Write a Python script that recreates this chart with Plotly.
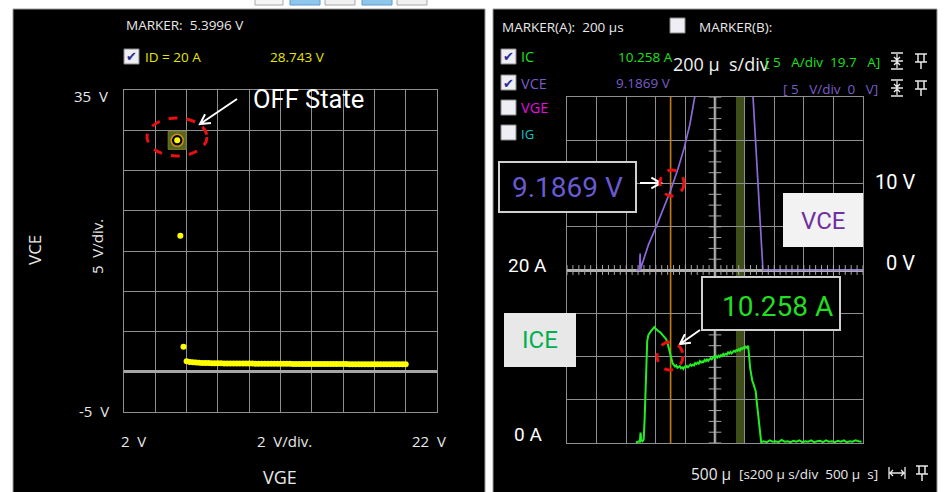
import math
import plotly.graph_objects as go

W, H = 944, 492

# ---------------- Left panel: VCE vs VGE sweep at ID = 20 A ----------------
vge_sweep = [5.3996, 5.6, 5.8,
             6.0, 6.2, 6.4, 6.6, 6.8, 7.0, 7.2, 7.4, 7.6, 7.8,
             8.0, 8.2, 8.4, 8.6, 8.8, 9.0, 9.2, 9.4, 9.6, 9.8,
             10.0, 10.2, 10.4, 10.6, 10.8, 11.0, 11.2, 11.4, 11.6, 11.8,
             12.0, 12.2, 12.4, 12.6, 12.8, 13.0, 13.2, 13.4, 13.6, 13.8,
             14.0, 14.2, 14.4, 14.6, 14.8, 15.0, 15.2, 15.4, 15.6, 15.8,
             16.0, 16.2, 16.4, 16.6, 16.8, 17.0, 17.2, 17.4, 17.6, 17.8,
             18.0, 18.2, 18.4, 18.6, 18.8, 19.0, 19.2, 19.4, 19.6, 19.8,
             20.0]
vce_sweep = [28.743, 16.9, 3.1,
             1.30, 1.22, 1.17, 1.14, 1.12, 1.10, 1.09, 1.08, 1.07, 1.06,
             1.05, 1.05, 1.04, 1.04, 1.03, 1.03, 1.02, 1.02, 1.02, 1.01,
             1.01, 1.01, 1.00, 1.00, 1.00, 0.99, 0.99, 0.99, 0.99, 0.98,
             0.98, 0.98, 0.98, 0.98, 0.97, 0.97, 0.97, 0.97, 0.97, 0.96,
             0.96, 0.96, 0.96, 0.96, 0.96, 0.95, 0.95, 0.95, 0.95, 0.95,
             0.95, 0.95, 0.94, 0.94, 0.94, 0.94, 0.94, 0.94, 0.94, 0.94,
             0.93, 0.93, 0.93, 0.93, 0.93, 0.93, 0.93, 0.93, 0.93, 0.93,
             0.93]
marker_vge = 5.3996
marker_vce = 28.743

# ---------------- Right panel: switching waveforms ----------------
t_vce = [-34, -10, -6, -3, 6, 50, 100, 150, 200, 250, 290, 330, 365, 420,
         745, 757, 790, 824, 1500]
vce = [0.0, 0.0, 1.9, 0.1, 0.6, 2.9, 4.9, 7.0, 9.1869, 11.7, 14.0, 16.8, 20.2, 25.0,
       25.0, 20.0, 10.2, 0.0, 0.0]

t_ic = [-34, -25, -15, -8, -3, 2, 10, 18, 24, 30, 36, 42, 50, 60, 70, 80, 90,
        100, 110, 120, 130, 140, 150, 160, 170, 180, 190, 200, 207, 214,
        222, 230, 238, 246, 254, 262, 270, 278, 286, 294, 302, 310, 318, 326,
        334, 342, 350, 358, 366, 374, 382, 390, 398, 406, 414, 422, 430, 438,
        446, 454, 462, 470, 478, 486, 493, 500, 508, 516, 524, 532, 540, 548,
        556, 564, 572, 580, 588, 596, 604, 612, 620, 628, 636, 644, 652, 660,
        668, 676, 684, 692, 700, 708, 716, 724,
        738, 745, 752, 760, 768, 775, 783, 790, 797, 804, 812, 830, 850, 870,
        890, 910, 930, 950, 970, 990, 1010, 1030, 1050, 1070, 1090, 1110, 1130,
        1150, 1170, 1190, 1210, 1230, 1250, 1270, 1290, 1310, 1330, 1350, 1370,
        1390, 1410, 1430, 1450, 1470, 1490]
ic = [0.15, 0.1, 0.2, 0.15, 1.2, 0.3, 0.2, 0.4, 2.5, 6.5, 9.8, 11.8, 12.5, 12.8,
      13.0, 13.2, 13.4, 13.2, 13.0, 12.9, 12.8, 12.6, 12.4, 12.3, 12.0, 11.5,
      10.9, 10.258, 9.6, 9.2,
      9.03, 8.84, 8.97, 8.70, 8.80, 8.89, 8.64, 8.75, 8.57, 8.82, 8.75, 8.90,
      8.75, 8.96, 9.08, 8.92, 9.07, 8.96, 9.24, 9.13, 9.29, 9.17, 9.46, 9.30,
      9.42, 9.34, 9.61, 9.47, 9.66, 9.49, 9.71, 9.81, 9.68, 9.86, 9.98, 9.83,
      10.04, 9.90, 10.09, 9.95, 10.16, 10.05, 10.30, 10.16, 10.30, 10.22, 10.48,
      10.34, 10.53, 10.36, 10.58, 10.66, 10.55, 10.75, 10.66, 10.85, 10.70,
      10.96, 10.85, 11.05, 10.92, 11.13, 11.02, 11.25,
      8.6, 7.8, 7.2, 6.8, 6.4, 6.0, 4.6, 3.4, 2.0, 0.8, 0.1, 0.2, 0.1, 0.3,
      0.15, 0.2, 0.1, 0.35, 0.15, 0.2, 0.1, 0.25, 0.15, 0.3, 0.1, 0.2, 0.15,
      0.3, 0.1, 0.2, 0.25, 0.1, 0.3, 0.15, 0.2, 0.1, 0.25, 0.15, 0.3,
      0.1, 0.2, 0.15, 0.3, 0.2, 0.15]
marker_a_t = 200
marker_a_ic = 10.258
marker_a_vce = 9.1869
band_t = [642, 703]


def px(x):
    return x / W


def py(y):
    return 1 - y / H


UI = "Open Sans"
LB = "Roboto"
GRID = "#8f8f8f"

fig = go.Figure()

# left sweep
fig.add_trace(go.Scatter(x=[marker_vge], y=[marker_vce], mode="markers",
                         marker=dict(symbol="square", size=18, color="#55661e",
                                     line=dict(color="#7a7a26", width=1)),
                         xaxis="x", yaxis="y", hoverinfo="skip"))
fig.add_trace(go.Scatter(x=[marker_vge], y=[marker_vce], mode="markers",
                         marker=dict(symbol="circle", size=12, color="#000000",
                                     line=dict(color="#d08a20", width=1.5)),
                         xaxis="x", yaxis="y", hoverinfo="skip"))
fig.add_trace(go.Scatter(x=vge_sweep, y=vce_sweep, mode="markers",
                         marker=dict(size=6, color="#ffff00"),
                         xaxis="x", yaxis="y"))

# right waveforms
fig.add_trace(go.Scatter(x=t_vce, y=vce, mode="lines",
                         line=dict(color="#8a6ad8", width=1.7),
                         xaxis="x2", yaxis="y2"))
fig.add_trace(go.Scatter(x=t_ic, y=ic, mode="lines",
                         line=dict(color="#22ee22", width=2),
                         xaxis="x2", yaxis="y3"))

# center axis tick decorations
tick_t = list(range(-500, 1501, 40))
fig.add_trace(go.Scatter(x=tick_t, y=[0] * len(tick_t), mode="markers",
                         marker=dict(symbol="line-ns", size=7,
                                     line=dict(color="#a8a8a8", width=1)),
                         xaxis="x2", yaxis="y2", hoverinfo="skip"))
tick_v = [v * 1.25 for v in range(-16, 17)]
fig.add_trace(go.Scatter(x=[500] * len(tick_v), y=tick_v, mode="markers",
                         marker=dict(symbol="line-ew", size=9,
                                     line=dict(color="#a8a8a8", width=1)),
                         xaxis="x2", yaxis="y2", hoverinfo="skip"))

shapes = []
anns = []

# top toolbar buttons (cut off by the top edge)
for x0, x1, fill, edge in [(255, 283, "#f6f6f6", "#a8a8a8"), (290, 320, "#8fc6ec", "#5b9bd0"),
                           (325, 355, "#f0f0f0", "#a8a8a8"), (362, 392, "#8fc6ec", "#5b9bd0"),
                           (397, 427, "#f0f0f0", "#a8a8a8")]:
    shapes.append(dict(type="rect", xref="paper", yref="paper", x0=px(x0), x1=px(x1),
                       y0=py(5), y1=py(-10), fillcolor=fill, line=dict(color=edge, width=1),
                       layer="below"))
# panel backgrounds
shapes.append(dict(type="rect", xref="paper", yref="paper", x0=px(13), x1=px(485),
                   y0=py(495), y1=py(9), fillcolor="#000000",
                   line=dict(color="#9a9a9a", width=1), layer="below"))
shapes.append(dict(type="rect", xref="paper", yref="paper", x0=px(493), x1=px(937),
                   y0=py(495), y1=py(9), fillcolor="#000000",
                   line=dict(color="#9a9a9a", width=1), layer="below"))

# marker band, marker A line and center time line
shapes.append(dict(type="rect", xref="x2", yref="paper", x0=band_t[0], x1=band_t[1],
                   y0=py(443), y1=py(97), fillcolor="#46561c", opacity=0.9,
                   line=dict(width=0), layer="below"))
shapes.append(dict(type="line", xref="x2", yref="paper", x0=marker_a_t, x1=marker_a_t,
                   y0=py(443), y1=py(97), line=dict(color="#c47a12", width=1.6),
                   layer="below"))
shapes.append(dict(type="line", xref="x2", yref="paper", x0=500, x1=500,
                   y0=py(443), y1=py(97), line=dict(color="#b0b0b0", width=2.5),
                   layer="below"))


def arrow(x0, y0, x1, y1, color="white", w=2, head=11):
    ang = math.atan2(y1 - y0, x1 - x0)
    bx1 = x1 - head * math.cos(ang - 0.5)
    by1 = y1 - head * math.sin(ang - 0.5)
    bx2 = x1 - head * math.cos(ang + 0.5)
    by2 = y1 - head * math.sin(ang + 0.5)
    path = (f"M {px(x0)},{py(y0)} L {px(x1)},{py(y1)} "
            f"M {px(bx1)},{py(by1)} L {px(x1)},{py(y1)} L {px(bx2)},{py(by2)}")
    shapes.append(dict(type="path", xref="paper", yref="paper", path=path,
                       line=dict(color=color, width=w)))


def ellipse(cx, cy, rx, ry, color="#e81010", w=3):
    shapes.append(dict(type="circle", xref="paper", yref="paper",
                       x0=px(cx - rx), x1=px(cx + rx), y0=py(cy + ry), y1=py(cy - ry),
                       line=dict(color=color, width=w, dash="dash")))


def box(x0, y0, x1, y1, fill, edge=None, w=2):
    shapes.append(dict(type="rect", xref="paper", yref="paper",
                       x0=px(x0), x1=px(x1), y0=py(y1), y1=py(y0), fillcolor=fill,
                       line=dict(color=edge if edge else fill, width=w if edge else 0)))


def checkbox(x0, y0, checked):
    box(x0, y0, x0 + 15, y0 + 15, "#eeeef4", "#8a8a8a", 1)
    if checked:
        anns.append(dict(x=px(x0 + 7.5), y=py(y0 + 8), text="✔", showarrow=False,
                         xref="paper", yref="paper", xanchor="center", yanchor="middle",
                         font=dict(family="DejaVu Sans", size=13, color="#2a2a9a")))


def updown_icon(cx, cy):
    p = (f"M {px(cx-6)},{py(cy)} L {px(cx+6)},{py(cy)} "
         f"M {px(cx)},{py(cy-7)} L {px(cx)},{py(cy-2)} "
         f"M {px(cx-3)},{py(cy-4)} L {px(cx)},{py(cy-1)} L {px(cx+3)},{py(cy-4)} "
         f"M {px(cx)},{py(cy+7)} L {px(cx)},{py(cy+2)} "
         f"M {px(cx-3)},{py(cy+4)} L {px(cx)},{py(cy+1)} L {px(cx+3)},{py(cy+4)} "
         f"M {px(cx-6)},{py(cy-8)} L {px(cx+6)},{py(cy-8)} "
         f"M {px(cx-6)},{py(cy+8)} L {px(cx+6)},{py(cy+8)}")
    shapes.append(dict(type="path", xref="paper", yref="paper", path=p,
                       line=dict(color="#e8e8e8", width=1.3)))


def pin_icon(cx, cy):
    p = (f"M {px(cx-6)},{py(cy-7)} L {px(cx+6)},{py(cy-7)} "
         f"M {px(cx-3)},{py(cy-7)} L {px(cx-3)},{py(cy+1)} "
         f"M {px(cx+3)},{py(cy-7)} L {px(cx+3)},{py(cy+1)} "
         f"M {px(cx-6)},{py(cy+1)} L {px(cx+6)},{py(cy+1)} "
         f"M {px(cx)},{py(cy+1)} L {px(cx)},{py(cy+8)}")
    shapes.append(dict(type="path", xref="paper", yref="paper", path=p,
                       line=dict(color="#e8e8e8", width=1.5)))


def hspan_icon(cx, cy):
    p = (f"M {px(cx-8)},{py(cy-6)} L {px(cx-8)},{py(cy+6)} "
         f"M {px(cx+8)},{py(cy-6)} L {px(cx+8)},{py(cy+6)} "
         f"M {px(cx-7)},{py(cy)} L {px(cx+7)},{py(cy)} "
         f"M {px(cx-4)},{py(cy-3)} L {px(cx-7)},{py(cy)} L {px(cx-4)},{py(cy+3)} "
         f"M {px(cx+4)},{py(cy-3)} L {px(cx+7)},{py(cy)} L {px(cx+4)},{py(cy+3)}")
    shapes.append(dict(type="path", xref="paper", yref="paper", path=p,
                       line=dict(color="#e8e8e8", width=1.3)))


def text(x, y, s, size=13, color="#e8e8e8", family=UI, xanchor="left", angle=0):
    anns.append(dict(x=px(x), y=py(y), text=s, showarrow=False, xref="paper", yref="paper",
                     xanchor=xanchor, yanchor="middle", textangle=angle,
                     font=dict(family=family, size=size, color=color)))


NB = "\u00a0"

# ---- left panel text ----
text(124, 25, f"MARKER:{NB}{NB}5.3996 V", 13.5)
checkbox(124, 49, True)
text(143, 57, "ID = 20 A", 13.5, "#e6e600")
text(268, 57, f"{marker_vce:.3f} V", 13.5, "#e6e600")
text(110, 96, f"35{NB}{NB}V", 15, xanchor="right")
text(111, 411, f"-5{NB}{NB}V", 15, xanchor="right")
text(34, 250, "VCE", 17, angle=-90, xanchor="center")
text(97, 247, f"5{NB}{NB}V/div.", 15, angle=-90, xanchor="center")
text(133, 441, f"2{NB}{NB}V", 15, xanchor="center")
text(284, 441, f"2{NB}{NB}V/div.", 15, xanchor="center")
text(429, 441, f"22{NB}{NB}V", 15, xanchor="center")
text(280, 477, "VGE", 18, xanchor="center")
text(251, 99, "OFF State", 25.5, "#ffffff", LB)
arrow(237, 99, 200, 124)
ellipse(177, 137, 30, 19)

# ---- right panel text ----
text(500, 27, f"MARKER(A):{NB}{NB}{marker_a_t} µs", 13.5)
checkbox(670, 18, False)
text(697, 27, "MARKER(B):", 13.5)
checkbox(501, 49, True)
checkbox(501, 75, True)
checkbox(501, 100, False)
checkbox(501, 125, False)
text(519, 57, "IC", 14.5, "#1ee01e")
text(519, 83, "VCE", 14.5, "#7a5cc8")
text(519, 108, "VGE", 14.5, "#e010e0")
text(519, 134, "IG", 13, "#10c8c8")
text(616, 57, f"{marker_a_ic:.3f} A", 13.5, "#1ee01e")
text(614, 83, f"{marker_a_vce:.4f} V", 13.5, "#7a5cc8")
text(671, 64, f"200 µ{NB}{NB}s/div", 18, "#f0f0f0")
text(763, 62, f"[{NB}5{NB}{NB}{NB}A/div{NB}{NB}19.7{NB}{NB}{NB}A]", 13.5, "#1ee01e")
text(781, 89, f"[{NB}5{NB}{NB}{NB}V/div{NB}{NB}0{NB}{NB}{NB}V]", 13.5, "#7a5cc8")
updown_icon(897, 61)
pin_icon(921, 61)
updown_icon(897, 88)
pin_icon(921, 88)
text(917, 182, "10 V", 20, "#ffffff", LB, xanchor="right")
text(917, 263, "0 V", 20, "#ffffff", LB, xanchor="right")
text(506, 265, "20 A", 19, "#ffffff", LB)
text(512, 434, "0 A", 19, "#ffffff", LB)
text(689, 474, "500 µ", 15.5)
text(737, 474, f"[s200 µ{NB}s/div{NB}{NB}500 µ{NB}{NB}s]", 13.5)
hspan_icon(897, 473)
pin_icon(922, 473)

# callouts
box(499, 162, 636, 212, "#000000", "#d0d0d0", 2)
text(567, 187, f"{marker_a_vce:.4f} V", 28, "#6a5ad0", LB, xanchor="center")
arrow(640, 183, 661, 183)
ellipse(672, 183, 12, 13)

box(783, 193, 863, 247, "#f2f2f2")
text(823, 221, "VCE", 24, "#7030a0", LB, xanchor="center")

box(702, 277, 840, 330, "#000000", "#d0d0d0", 2)
text(777, 306, f"{marker_a_ic:.3f} A", 28, "#22dd22", LB, xanchor="center")
arrow(700, 330, 680, 344)
ellipse(670, 356, 13, 14)

box(504, 313, 576, 367, "#e8e8e8")
text(540, 340, "ICE", 24, "#00b050", LB, xanchor="center")

axis_common = dict(showticklabels=False, ticks="", showgrid=True, gridcolor=GRID,
                   gridwidth=1, showline=True, mirror=True, linecolor=GRID, linewidth=1)

fig.update_layout(
    width=W, height=H, margin=dict(l=0, r=0, t=0, b=0),
    paper_bgcolor="#ffffff", plot_bgcolor="#000000", showlegend=False,
    xaxis=dict(domain=[px(124), px(437)], range=[2, 22], dtick=2, tick0=2,
               zeroline=False, anchor="y", **axis_common),
    yaxis=dict(domain=[py(412), py(90)], range=[-5, 35], dtick=5, tick0=-5,
               zeroline=True, zerolinecolor="#a6a6a6", zerolinewidth=3,
               anchor="x", **axis_common),
    xaxis2=dict(domain=[px(567), px(863)], range=[-500, 1500], dtick=200, tick0=-500,
                zeroline=False, anchor="y2", **axis_common),
    yaxis2=dict(domain=[py(443), py(97)], range=[-20, 20], dtick=5, tick0=-20,
                zeroline=True, zerolinecolor="#b0b0b0", zerolinewidth=2.5,
                anchor="x2", **axis_common),
    yaxis3=dict(range=[0, 40], overlaying="y2", anchor="x2", side="right",
                showticklabels=False, showgrid=False, zeroline=False, showline=False,
                ticks=""),
    shapes=shapes, annotations=anns,
)

fig.write_html("out.html")
